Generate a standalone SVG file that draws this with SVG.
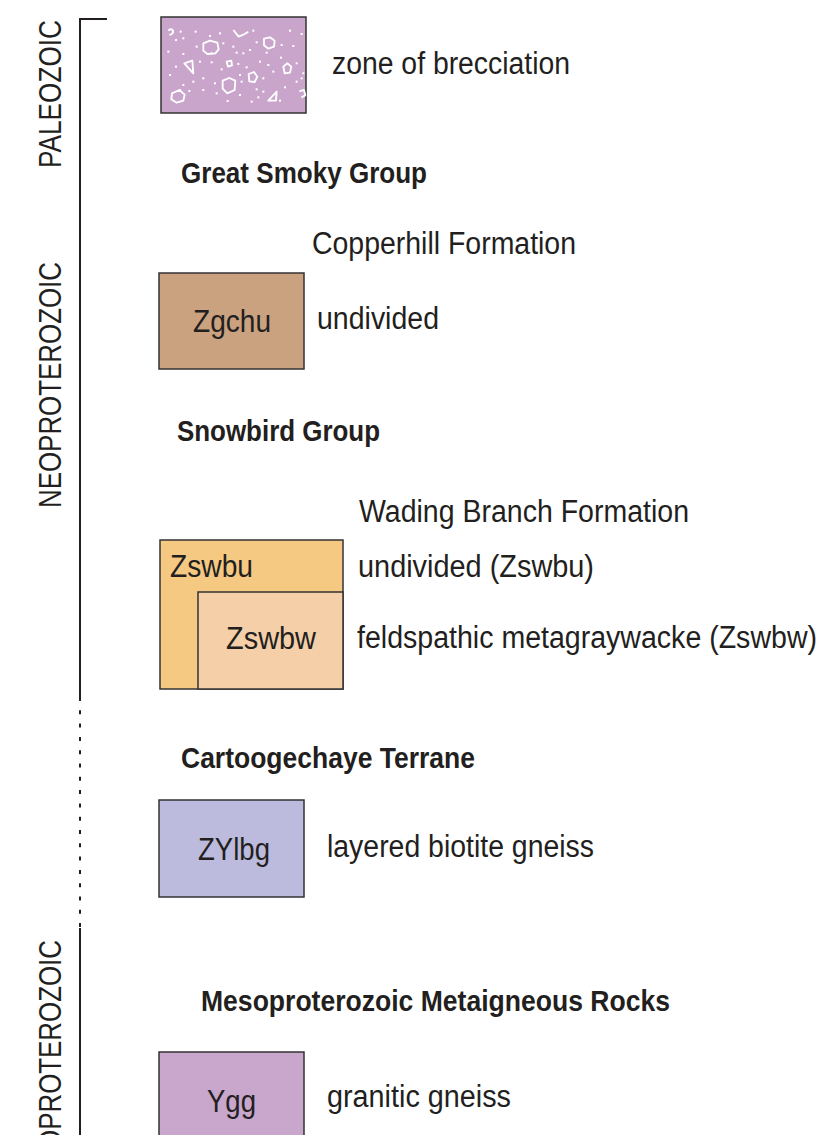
<svg xmlns="http://www.w3.org/2000/svg" width="821" height="1135" viewBox="0 0 821 1135">
<style>
.t{font-family:"Liberation Sans",Arial,sans-serif;font-size:31px;fill:#231f20}
.b{font-family:"Liberation Sans",Arial,sans-serif;font-size:30px;font-weight:bold;fill:#231f20}
.box{stroke:#333;stroke-width:1.5}
.ax{stroke:#231f20;stroke-width:2;fill:none}
.dot{fill:#fff}
.cl{fill:none;stroke:#fff;stroke-width:5.5;stroke-linejoin:round}
</style>
<rect width="821" height="1135" fill="#fff"/>
<g id="timescale">
<path class="ax" d="M107,19 H80 V697"/>
<path class="ax" d="M80,697 V928" stroke-dasharray="4,9.3" stroke-width="2.5"/>
<path class="ax" d="M80,928 V1135"/>
<text class="t" transform="translate(61,168) rotate(-90)" textLength="148" lengthAdjust="spacingAndGlyphs">PALEOZOIC</text>
<text class="t" transform="translate(61,508) rotate(-90)" textLength="246" lengthAdjust="spacingAndGlyphs">NEOPROTEROZOIC</text>
<text class="t" transform="translate(61,940) rotate(-90)" text-anchor="end" textLength="266" lengthAdjust="spacingAndGlyphs">MESOPROTEROZOIC</text>
</g>
<g id="breccia">
<rect class="box" x="161" y="17" width="145" height="96" fill="#c9a5cb"/>
<g transform="translate(150,10) scale(0.3333)">
<g class="dot">
<rect x="89" y="62" width="6" height="6"/><rect x="134" y="62" width="6" height="6"/><rect x="177" y="75" width="6" height="6"/><rect x="207" y="67" width="6" height="6"/>
<rect x="75" y="87" width="6" height="6"/><rect x="97" y="82" width="6" height="6"/><rect x="137" y="107" width="6" height="6"/><rect x="217" y="97" width="6" height="6"/>
<rect x="307" y="59" width="6" height="6"/><rect x="317" y="94" width="6" height="6"/><rect x="297" y="117" width="6" height="6"/><rect x="247" y="107" width="6" height="6"/>
<rect x="277" y="127" width="6" height="6"/><rect x="417" y="59" width="6" height="6"/><rect x="452" y="69" width="6" height="6"/><rect x="392" y="102" width="6" height="6"/>
<rect x="427" y="105" width="6" height="6"/><rect x="52" y="122" width="6" height="6"/><rect x="97" y="129" width="6" height="6"/><rect x="182" y="127" width="6" height="6"/>
<rect x="257" y="125" width="6" height="6"/><rect x="347" y="125" width="6" height="6"/><rect x="75" y="167" width="6" height="6"/><rect x="147" y="152" width="6" height="6"/>
<rect x="182" y="154" width="6" height="6"/><rect x="212" y="175" width="6" height="6"/><rect x="262" y="159" width="6" height="6"/><rect x="287" y="169" width="6" height="6"/>
<rect x="327" y="152" width="6" height="6"/><rect x="352" y="162" width="6" height="6"/><rect x="367" y="182" width="6" height="6"/><rect x="437" y="157" width="6" height="6"/>
<rect x="457" y="187" width="6" height="6"/><rect x="127" y="212" width="6" height="6"/><rect x="157" y="202" width="6" height="6"/><rect x="192" y="217" width="6" height="6"/>
<rect x="267" y="192" width="6" height="6"/><rect x="272" y="212" width="6" height="6"/><rect x="337" y="202" width="6" height="6"/><rect x="337" y="242" width="6" height="6"/>
<rect x="317" y="235" width="6" height="6"/><rect x="402" y="229" width="6" height="6"/><rect x="97" y="222" width="6" height="6"/><rect x="87" y="237" width="6" height="6"/>
<rect x="157" y="237" width="6" height="6"/><rect x="197" y="247" width="6" height="6"/><rect x="267" y="252" width="6" height="6"/><rect x="302" y="272" width="6" height="6"/>
<rect x="322" y="259" width="6" height="6"/><rect x="387" y="269" width="6" height="6"/><rect x="437" y="212" width="6" height="6"/><rect x="452" y="202" width="6" height="6"/>
<rect x="57" y="192" width="6" height="6"/><rect x="115" y="240" width="6" height="6"/><rect x="230" y="270" width="6" height="6"/><rect x="390" y="140" width="6" height="6"/>
</g>
<path class="cl" d="M55,62 Q60,55 68,60 Q72,68 64,73 L58,75"/>
<path class="cl" d="M160,100 L180,92 L202,98 L206,118 L196,130 L172,132 L160,122 Z"/>
<path class="cl" d="M250,60 L266,80 L280,74 L295,65"/>
<path class="cl" d="M342,86 L360,82 L374,92 L372,110 L355,116 L342,106 Z"/>
<path class="cl" d="M103,160 L127,152 L130,190 Z"/>
<path class="cl" d="M230,155 L244,152 L246,166 L234,170 Z"/>
<path class="cl" d="M400,170 L412,160 L424,170 L420,188 L404,190 Z"/>
<path class="cl" d="M296,192 L312,186 L322,200 L314,216 L298,214 Z"/>
<path class="cl" d="M218,212 L238,204 L256,212 L254,240 L232,250 L218,236 Z"/>
<path class="cl" d="M66,250 L88,240 L104,254 L100,272 L80,278 L64,268 Z"/>
<path class="cl" d="M355,272 L380,245 L378,272 Z"/>
<path class="cl" d="M448,244 L462,240 L466,256 L454,262"/>
</g>
<text class="t" x="332" y="74" textLength="238" lengthAdjust="spacingAndGlyphs">zone of brecciation</text>
</g>
<g id="great-smoky">
<text class="b" x="181" y="183" textLength="246" lengthAdjust="spacingAndGlyphs">Great Smoky Group</text>
</g>
<g id="zgchu">
<text class="t" x="312" y="254" textLength="264" lengthAdjust="spacingAndGlyphs">Copperhill Formation</text>
<rect class="box" x="159" y="273" width="145" height="96" fill="#cba27f"/>
<text class="t" x="193" y="332" textLength="78" lengthAdjust="spacingAndGlyphs">Zgchu</text>
<text class="t" x="317" y="329" textLength="122" lengthAdjust="spacingAndGlyphs">undivided</text>
</g>
<g id="snowbird">
<text class="b" x="177" y="441" textLength="203" lengthAdjust="spacingAndGlyphs">Snowbird Group</text>
</g>
<g id="zswbu">
<text class="t" x="359" y="522" textLength="330" lengthAdjust="spacingAndGlyphs">Wading Branch Formation</text>
<rect class="box" x="160" y="540" width="183" height="149" fill="#f6c983"/>
<text class="t" x="170" y="577" textLength="83" lengthAdjust="spacingAndGlyphs">Zswbu</text>
<text class="t" x="358" y="577" textLength="236" lengthAdjust="spacingAndGlyphs">undivided (Zswbu)</text>
</g>
<g id="zswbw">
<rect class="box" x="198" y="592" width="145" height="97" fill="#f5cfa8"/>
<text class="t" x="226" y="649" textLength="90" lengthAdjust="spacingAndGlyphs">Zswbw</text>
<text class="t" x="357" y="648" textLength="460" lengthAdjust="spacingAndGlyphs">feldspathic metagraywacke (Zswbw)</text>
</g>
<g id="cartoogechaye">
<text class="b" x="181" y="768" textLength="294" lengthAdjust="spacingAndGlyphs">Cartoogechaye Terrane</text>
</g>
<g id="zylbg">
<rect class="box" x="159" y="800" width="145" height="97" fill="#bcbbdd"/>
<text class="t" x="198" y="860" textLength="72" lengthAdjust="spacingAndGlyphs">ZYlbg</text>
<text class="t" x="327" y="857" textLength="267" lengthAdjust="spacingAndGlyphs">layered biotite gneiss</text>
</g>
<g id="meso">
<text class="b" x="201" y="1011" textLength="469" lengthAdjust="spacingAndGlyphs">Mesoproterozoic Metaigneous Rocks</text>
</g>
<g id="ygg">
<rect class="box" x="159" y="1052" width="145" height="100" fill="#c9a6cc"/>
<text class="t" x="207" y="1112" textLength="49" lengthAdjust="spacingAndGlyphs">Ygg</text>
<text class="t" x="327" y="1107" textLength="184" lengthAdjust="spacingAndGlyphs">granitic gneiss</text>
</g>
</svg>
